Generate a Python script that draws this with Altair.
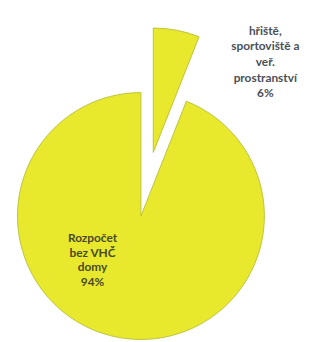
import altair as alt
import pandas as pd

# Data
categories = ["hřiště, sportoviště a veř. prostranství", "Rozpočet bez VHČ domy"]
values = [6, 94]
order = [0, 1]
label_lines = [
    ["hřiště,", "sportoviště a", "veř.", "prostranství", "6%"],
    ["Rozpočet", "bez VHČ", "domy", "94%"],
]

df = pd.DataFrame({"category": categories, "value": values, "order": order})

FILL = "#e8e82c"
EDGE = "#b9c23c"
R = 130

base = alt.Chart(df).encode(
    theta=alt.Theta("value:Q", stack=True),
    order=alt.Order("order:Q"),
)

big = base.mark_arc(outerRadius=R, fill=FILL, stroke=EDGE, strokeWidth=1).encode(
    x=alt.value(140),
    y=alt.value(210),
    opacity=alt.condition(alt.datum.order == 1, alt.value(1), alt.value(0)),
)

small = base.mark_arc(outerRadius=R + 1, fill=FILL, stroke=EDGE, strokeWidth=1).encode(
    x=alt.value(153),
    y=alt.value(143),
    opacity=alt.condition(alt.datum.order == 0, alt.value(1), alt.value(0)),
)

lab_small = alt.Chart(pd.DataFrame({"t": ["\n".join(label_lines[0])]})).mark_text(
    lineBreak="\n", font="Lato", fontSize=12.5, fontWeight="bold",
    color="#4a5058", align="center", baseline="top", lineHeight=16.5,
).encode(text="t:N", x=alt.value(271), y=alt.value(9))

lab_big = alt.Chart(pd.DataFrame({"t": ["\n".join(label_lines[1])]})).mark_text(
    lineBreak="\n", font="Lato", fontSize=12.5, fontWeight="bold",
    color="#4a4a2a", align="center", baseline="top", lineHeight=15.7,
).encode(text="t:N", x=alt.value(89), y=alt.value(227))

chart = alt.layer(big, small, lab_small, lab_big).properties(
    width=317, height=342,
    autosize=alt.AutoSizeParams(type="none"),
    padding=0,
    background="white",
).configure_view(stroke=None)

chart.save("out.html", embed_options={"renderer": "svg", "actions": False})
